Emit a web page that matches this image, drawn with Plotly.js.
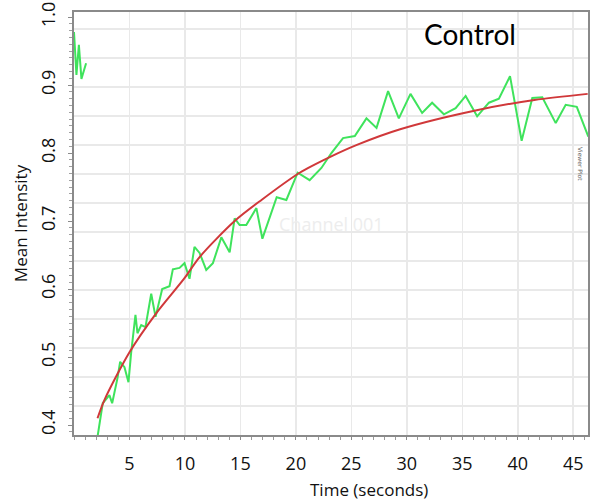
<!DOCTYPE html>
<html>
<head>
<meta charset="utf-8">
<script src="https://cdn.plot.ly/plotly-3.0.1.min.js"></script>
<style>html,body{margin:0;padding:0;background:#fff;}#chart{width:594px;height:502px;}</style>
</head>
<body>
<div id="chart"></div>
<script>
// Measured data (green), pre-bleach and recovery segments separated by a gap
const timeData = [0.0, 0.22, 0.44, 0.67, 1.09, null,
  2.0, 2.59, 3.19, 3.44, 3.92, 4.16, 4.55, 4.91, 5.15, 5.54, 5.72, 6.06, 6.44, 6.96, 7.35, 7.95,
  8.61, 8.91, 9.51, 9.96, 10.41, 10.86, 11.32, 11.92, 12.52, 13.28, 14.03, 14.48, 14.93, 15.53,
  16.44, 16.98, 18.27, 19.14, 20.16, 21.24, 22.30, 23.2, 24.25, 25.31, 26.36, 27.27, 28.31,
  29.28, 30.33, 31.38, 32.28, 33.34, 34.4, 35.3, 36.34, 37.4, 38.3, 39.3, 40.35, 41.31, 42.21,
  43.42, 44.32, 45.32, 46.36];
const intensityData = [0.978, 0.915, 0.959, 0.909, 0.932, null,
  0.37, 0.432, 0.444, 0.432, 0.469, 0.493, 0.485, 0.463, 0.506, 0.562, 0.535, 0.547, 0.544, 0.593, 0.559, 0.600,
  0.604, 0.629, 0.631, 0.638, 0.615, 0.662, 0.653, 0.628, 0.638, 0.676, 0.654, 0.704, 0.694, 0.694,
  0.719, 0.674, 0.735, 0.731, 0.771, 0.760, 0.778, 0.800, 0.822, 0.825, 0.851, 0.837, 0.891,
  0.851, 0.887, 0.859, 0.874, 0.857, 0.866, 0.884, 0.854, 0.874, 0.880, 0.913, 0.818, 0.881, 0.882,
  0.844, 0.871, 0.868, 0.824];
// Fitted recovery curve (red)
const timeFit = [2.12, 2.75, 5.0, 7.44, 9.96, 11.32, 14.48, 16.9, 20.34, 23.05, 25.5, 29.4, 36.3, 41.5, 46.3];
const intensityFit = [0.410, 0.437, 0.507, 0.565, 0.616, 0.647, 0.700, 0.731, 0.771, 0.794, 0.812, 0.835, 0.863, 0.878, 0.887];
// Tick labels
const xTickVals = [5, 10, 15, 20, 25, 30, 35, 40, 45];
const yTickVals = [0.4, 0.5, 0.6, 0.7, 0.8, 0.9, 1.0];
const yTickText = ['0.4', '0.5', '0.6', '0.7', '0.8', '0.9', '1.0'];

const tickFont = {family: 'Open Sans, DejaVu Sans, sans-serif', size: 18, color: '#111'};
const titleFont = {family: 'Open Sans, DejaVu Sans, sans-serif', size: 17, color: '#111'};

const traces = [
  {x: [0, 1], y: [0, 1], xaxis: 'x', yaxis: 'y2', mode: 'none', hoverinfo: 'skip', showlegend: false},
  {x: timeData, y: intensityData, mode: 'lines', connectgaps: false,
   line: {color: '#3fe35c', width: 2}, showlegend: false},
  {x: timeFit, y: intensityFit, mode: 'lines', line: {color: '#d0383a', width: 2, shape: 'spline', smoothing: 0.8},
   showlegend: false}
];

const layout = {
  width: 594, height: 502,
  margin: {l: 74, r: 6, t: 12, b: 67, pad: 0},
  paper_bgcolor: '#fff', plot_bgcolor: 'rgba(0,0,0,0)',
  showlegend: false,
  xaxis: {
    range: [0, 46.33], tickvals: xTickVals, ticktext: xTickVals.map(String),
    showgrid: true, gridcolor: '#e9e9e9', gridwidth: 1.5, zeroline: false,
    showline: true, linecolor: '#8a8a8a', linewidth: 2, mirror: true,
    ticks: 'outside', ticklen: 3, tickcolor: '#8a8a8a', tickwidth: 1,
    minor: {dtick: 1, ticks: 'outside', ticklen: 3, tickcolor: '#9a9a9a', showgrid: false},
    tickfont: tickFont, ticklabelstandoff: 8
  },
  yaxis: {
    range: [0.3853, 1.0074], tickvals: yTickVals, ticktext: yTickText, tickangle: -90,
    showgrid: false, zeroline: false,
    showline: true, linecolor: '#8a8a8a', linewidth: 2, mirror: true,
    ticks: 'outside', ticklen: 4, tickcolor: '#8a8a8a', tickwidth: 1,
    minor: {dtick: 0.01, ticks: 'outside', ticklen: 3, tickcolor: '#a0a0a0', showgrid: false},
    tickfont: tickFont, ticklabelstandoff: 6,
    title: {text: 'Mean Intensity', font: titleFont, standoff: 4}
  },
  yaxis2: {
    overlaying: 'y', range: [0, 14.586], dtick: 1, tick0: 0,
    showgrid: true, gridcolor: '#e9e9e9', gridwidth: 1.5, zeroline: false,
    showticklabels: false, ticks: '', showline: false, layer: 'below traces'
  },
  annotations: [
    {text: 'Time (seconds)', xref: 'paper', yref: 'paper', x: 0.573, y: -0.097, yanchor: 'top', xanchor: 'center',
     showarrow: false, font: titleFont},
    {text: 'Control', xref: 'paper', yref: 'paper', x: 0.77, y: 0.947, xanchor: 'center', yanchor: 'middle',
     showarrow: false, font: {family: 'Lato, Open Sans, sans-serif', size: 28, color: '#000'}},
    {text: 'Channel 001', xref: 'paper', yref: 'paper', x: 0.5, y: 0.5, xanchor: 'center', yanchor: 'middle',
     showarrow: false, font: {family: 'Open Sans, sans-serif', size: 18, color: '#ededed'}},
    {text: 'Viewer Plot', xref: 'paper', yref: 'paper', x: 0.985, y: 0.64, xanchor: 'center', yanchor: 'middle',
     textangle: 90, showarrow: false, font: {family: 'DejaVu Sans, sans-serif', size: 6, color: '#666'}}
  ]
};

Plotly.newPlot('chart', traces, layout, {staticPlot: true, displayModeBar: false});
</script>
</body>
</html>
